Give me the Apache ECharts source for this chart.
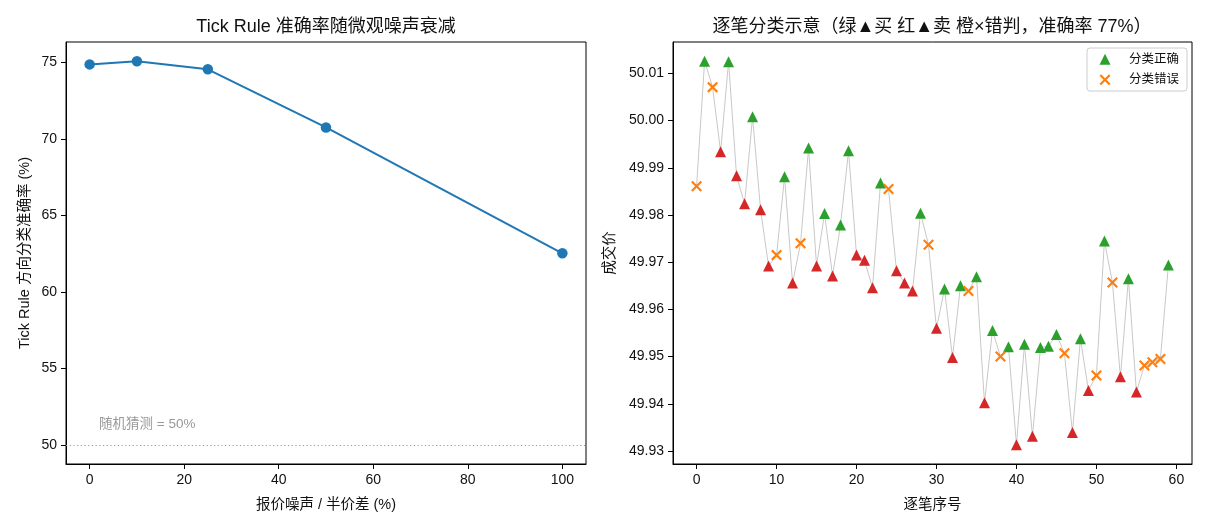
<!DOCTYPE html>
<html>
<head>
<meta charset="utf-8">
<title>Tick Rule</title>
<script src="https://cdn.jsdelivr.net/npm/echarts@6/dist/echarts.min.js"></script>
<style>
html, body { margin: 0; padding: 0; background: #fff; }
#chart { width: 1210px; height: 528px; }
</style>
</head>
<body>
<div id="chart"></div>
<script>
// left panel: accuracy vs noise
const noiseLevels = [0, 10, 25, 50, 100];
const accuracy = [74.87, 75.08, 74.55, 70.75, 62.52];
const noiseTicks = [0, 20, 40, 60, 80, 100];
const accTicks = [50, 55, 60, 65, 70, 75];
const randomGuess = 50;

// right panel: trade sequence, B = buy ok, S = sell ok, X = misclassified
const prices = [
  49.9861, 50.0126, 50.0071, 49.9934, 50.0125, 49.9883, 49.9824, 50.0008, 49.9811, 49.9692,
  49.9715, 49.9881, 49.9656, 49.9740, 49.9942, 49.9692, 49.9803, 49.9671, 49.9779, 49.9936,
  49.9715, 49.9704, 49.9646, 49.9868, 49.9855, 49.9682, 49.9656, 49.9639, 49.9804, 49.9737,
  49.9560, 49.9643, 49.9498, 49.9650, 49.9639, 49.9669, 49.9402, 49.9555, 49.9500, 49.9521,
  49.9313, 49.9526, 49.9331, 49.9519, 49.9522, 49.9547, 49.9507, 49.9339, 49.9538, 49.9428,
  49.9460, 49.9745, 49.9657, 49.9457, 49.9665, 49.9425, 49.9481, 49.9488, 49.9495, 49.9694
];
const classes = [
  "X", "B", "X", "S", "B", "S", "S", "B", "S", "S",
  "X", "B", "S", "X", "B", "S", "B", "S", "B", "B",
  "S", "S", "S", "B", "X", "S", "S", "S", "B", "X",
  "S", "B", "S", "B", "X", "B", "S", "B", "X", "B",
  "S", "B", "S", "B", "B", "B", "X", "S", "B", "S",
  "X", "B", "X", "S", "B", "S", "X", "X", "X", "B"
];
const seqTicks = [0, 10, 20, 30, 40, 50, 60];
const priceTicks = [49.93, 49.94, 49.95, 49.96, 49.97, 49.98, 49.99, 50.00, 50.01];

const FONT = '"Liberation Sans", "Noto Sans CJK SC", sans-serif';
const crossPath = "path://M1.4,0L5,3.6L8.6,0L10,1.4L6.4,5L10,8.6L8.6,10L5,6.4L1.4,10L0,8.6L3.6,5L0,1.4Z";
// legend icons drawn inside a 32x11 box, shape centred at x=13
const legendTriangle = "path://M0,0M32,11M13,0L18.5,11L7.5,11Z";
const legendCross = "path://M0,0M32,11M9.04,0L13,3.96L16.96,0L18.5,1.54L14.54,5.5L18.5,9.46L16.96,11L13,7.04L9.04,11L7.5,9.46L11.46,5.5L7.5,1.54Z";

// matplotlib style 5% margins
function pad(lo, hi) {
  const m = (hi - lo) * 0.05;
  return [lo - m, hi + m];
}
const accRange = pad(Math.min(randomGuess, ...accuracy), Math.max(...accuracy));
const noiseRange = pad(Math.min(...noiseLevels), Math.max(...noiseLevels));
const priceRange = pad(Math.min(...prices), Math.max(...prices));
const seqRange = pad(0, prices.length - 1);

function pick(cls) {
  const out = [];
  prices.forEach((p, i) => {
    if (classes[i] === cls) out.push([i, p]);
  });
  return out;
}

function valueAxis(idx, range, ticks, fmt, name, gap, rotate) {
  return {
    type: "value",
    gridIndex: idx,
    min: range[0],
    max: range[1],
    name: name,
    nameLocation: "middle",
    nameGap: gap,
    nameRotate: rotate,
    nameTextStyle: { fontSize: 14.5, color: "#111", fontFamily: FONT },
    axisLine: { show: true, onZero: false, lineStyle: { color: "#000", width: 1 } },
    axisTick: { show: true, length: 5, customValues: ticks, lineStyle: { color: "#000" } },
    axisLabel: {
      show: true, margin: 9, customValues: ticks, fontSize: 14, color: "#111",
      fontFamily: FONT, formatter: fmt
    },
    splitLine: { show: false }
  };
}

const chart = echarts.init(document.getElementById("chart"));

chart.setOption({
  animation: false,
  textStyle: { fontFamily: FONT },
  title: [
    {
      text: "Tick Rule 准确率随微观噪声衰减",
      left: 326, top: 18, textAlign: "center", padding: 0,
      textStyle: { fontSize: 18, fontWeight: "normal", color: "#111", fontFamily: FONT }
    },
    {
      text: "逐笔分类示意（绿▲买 红▲卖 橙×错判，准确率 77%）",
      left: 932, top: 18, textAlign: "center", padding: 0,
      textStyle: { fontSize: 18, fontWeight: "normal", color: "#111", fontFamily: FONT }
    }
  ],
  legend: {
    data: [
      { name: "分类正确", icon: legendTriangle },
      { name: "分类错误", icon: legendCross }
    ],
    orient: "vertical",
    right: 23, top: 48,
    padding: [5, 8, 5, 5],
    itemWidth: 32, itemHeight: 11, itemGap: 8,
    borderColor: "#ccc", borderWidth: 1, borderRadius: 3,
    textStyle: { fontSize: 12.5, color: "#111", fontFamily: FONT }
  },
  grid: [
    { left: 66, top: 42, width: 520, height: 422, show: true, borderColor: "#000", borderWidth: 1 },
    { left: 673, top: 42, width: 519, height: 422, show: true, borderColor: "#000", borderWidth: 1 }
  ],
  xAxis: [
    valueAxis(0, noiseRange, noiseTicks, (v) => String(v), "报价噪声 / 半价差 (%)", 34, 0),
    valueAxis(1, seqRange, seqTicks, (v) => String(v), "逐笔序号", 34, 0)
  ],
  yAxis: [
    valueAxis(0, accRange, accTicks, (v) => String(v), "Tick Rule 方向分类准确率 (%)", 34, 90),
    valueAxis(1, priceRange, priceTicks, (v) => v.toFixed(2), "成交价", 56, 90)
  ],
  series: [
    {
      name: "accuracy",
      type: "line",
      xAxisIndex: 0, yAxisIndex: 0,
      data: noiseLevels.map((x, i) => [x, accuracy[i]]),
      symbol: "circle", symbolSize: 10.5,
      lineStyle: { color: "#1f77b4", width: 2 },
      itemStyle: { color: "#1f77b4" },
      markLine: {
        silent: true, symbol: "none",
        label: { show: false },
        lineStyle: { color: "#999", width: 1, type: [1.2, 2.5] },
        data: [{ yAxis: randomGuess }]
      }
    },
    {
      name: "price",
      type: "line",
      xAxisIndex: 1, yAxisIndex: 1,
      data: prices.map((p, i) => [i, p]),
      showSymbol: false, symbol: "none",
      lineStyle: { color: "#c8c8c8", width: 1 },
      z: 1
    },
    {
      name: "分类正确",
      type: "scatter",
      xAxisIndex: 1, yAxisIndex: 1,
      data: pick("B"),
      symbol: "triangle", symbolSize: 11,
      itemStyle: { color: "#2ca02c", opacity: 1 },
      z: 3
    },
    {
      name: "卖出正确",
      type: "scatter",
      xAxisIndex: 1, yAxisIndex: 1,
      data: pick("S"),
      symbol: "triangle", symbolSize: 11,
      itemStyle: { color: "#d62728", opacity: 1 },
      z: 3
    },
    {
      name: "分类错误",
      type: "scatter",
      xAxisIndex: 1, yAxisIndex: 1,
      data: pick("X"),
      symbol: crossPath, symbolSize: 11,
      itemStyle: { color: "#ff7f0e", opacity: 1 },
      z: 4
    }
  ]
});

// annotation just above the random-guess line
const pt = chart.convertToPixel({ gridIndex: 0 }, [2, randomGuess + 1]);
chart.setOption({
  graphic: [{
    type: "text",
    x: pt[0], y: pt[1] + 2,
    style: {
      text: "随机猜测 = 50%",
      fill: "#999",
      font: "13.5px " + FONT,
      align: "left",
      verticalAlign: "bottom"
    }
  }]
});
</script>
</body>
</html>
